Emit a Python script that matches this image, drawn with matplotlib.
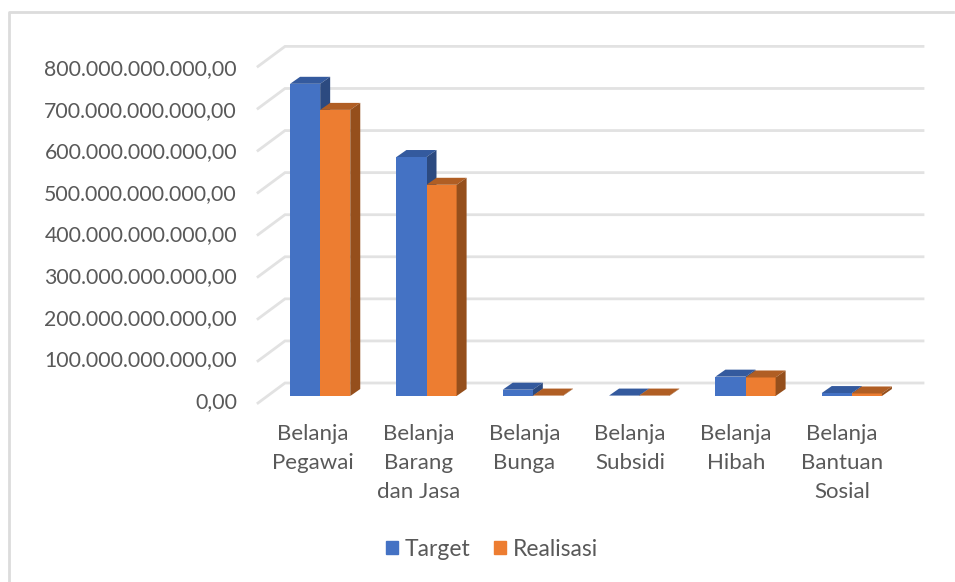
import matplotlib
matplotlib.use("Agg")
import matplotlib.pyplot as plt
from matplotlib.lines import Line2D
from matplotlib.patches import Patch, Polygon
from matplotlib.transforms import Affine2D, IdentityTransform

categories = ["Belanja\nPegawai", "Belanja\nBarang\ndan Jasa", "Belanja\nBunga",
              "Belanja\nSubsidi", "Belanja\nHibah", "Belanja\nBantuan\nSosial"]
target = [742e9, 568e9, 15e9, 1e9, 46e9, 7e9]
realisasi = [680e9, 502e9, 1e9, 1e9, 44e9, 6e9]
ticks = [i * 100e9 for i in range(9)]
tick_labels = ["0,00"] + [f"{i}00.000.000.000,00" for i in range(1, 9)]

W, H = 955, 582
text_color = "#595959"
grid_color = "#e2e2e2"
blue = "#4472c4"
blue_top, blue_side = "#345a9e", "#2c4a80"
orange = "#ed7d31"
orange_top, orange_side = "#b05e24", "#954f1c"
bar_w = 0.283

plt.rcParams["font.family"] = ["Lato", "DejaVu Sans"]
fig = plt.figure(figsize=(W / 100, H / 100), dpi=100)

ax = fig.add_axes([267 / W, 1 - 396 / H, 638 / W, 336.6 / H])
ax.set_xlim(-0.5, 5.5)
ax.set_ylim(0, 800e9)
ax.patch.set_visible(False)
for s in ax.spines.values():
    s.set_visible(False)

# chart frame: top and left edges only show in the crop
fig.add_artist(Line2D([9 / W, 9 / W, 953 / W], [0, 1 - 11.5 / H, 1 - 11.5 / H],
                      transform=fig.transFigure, color="#dcdcdc", lw=2))


def px(x, y, dx=0, dy=0):
    a, b = ax.transData.transform((x, y))
    return a + dx, b + dy


# back wall gridlines and the side wall diagonals
for v in ticks:
    x0, y0 = px(-0.5, v, 18, 13)
    x1, y1 = px(5.5, v, 18, 13)
    ax.add_line(Line2D([x0 - 27, x0, x1], [y0 - 20, y0, y1], transform=IdentityTransform(),
                       color=grid_color, lw=2, zorder=1, solid_joinstyle="miter", clip_on=False))


def bar3d(pos, values, front, top, side, z_back, z_front):
    ax.bar(pos, values, bar_w, color=front, lw=0, zorder=z_front)
    for x, v in zip(pos, values):
        xl, xr = x - bar_w / 2, x + bar_w / 2
        ax.add_patch(Polygon([px(xl, v), px(xr, v), px(xr, v, 10, 7), px(xl, v, 10, 7)],
                             transform=IdentityTransform(), color=top, lw=0, zorder=z_back,
                             clip_on=False))
        ax.add_patch(Polygon([px(xr, 0), px(xr, v), px(xr, v, 10, 7), px(xr, 0, 10, 7)],
                             transform=IdentityTransform(), color=side, lw=0, zorder=z_back,
                             clip_on=False))


idx = list(range(len(categories)))
bar3d([i - bar_w / 2 for i in idx], target, blue, blue_top, blue_side, 2, 4)
bar3d([i + bar_w / 2 for i in idx], realisasi, orange, orange_top, orange_side, 3, 3)

ax.set_yticks(ticks, tick_labels, fontsize=15.3, color=text_color)
ax.set_xticks(idx, categories, fontsize=16, color=text_color, linespacing=1.56)
ax.tick_params(axis="both", length=0)
ax.tick_params(axis="y", pad=21.6)
ax.tick_params(axis="x", pad=20)
# labels sit on the front plane, whose scale is a touch tighter than the wall
for i, lab in enumerate(ax.get_yticklabels()):
    lab.set_transform(lab.get_transform() + Affine2D().translate(0, -4 - i * 0.45))
for i, lab in enumerate(ax.get_xticklabels()):
    lab.set_transform(lab.get_transform() + Affine2D().translate(-7.5 - i * 0.5, 0))

fig.legend(handles=[Patch(color=blue, label="Target"), Patch(color=orange, label="Realisasi")],
           loc="center", bbox_to_anchor=(492 / W, 1 - 549 / H), ncol=2, frameon=False,
           fontsize=16.5, labelcolor=text_color, handlelength=0.52, handleheight=0.52,
           handletextpad=0.3, columnspacing=1.0)

fig.savefig("out.png", dpi=100)
plt.close(fig)
